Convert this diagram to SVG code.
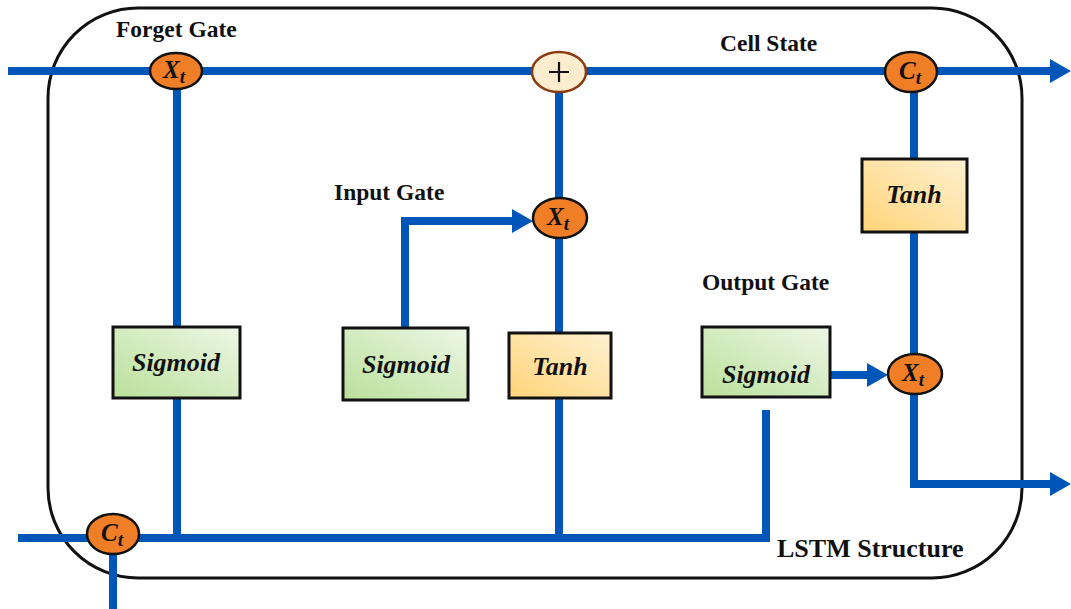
<svg xmlns="http://www.w3.org/2000/svg" width="1071" height="609" viewBox="0 0 1071 609">
<defs>
<linearGradient id="gGreen" x1="0" y1="1" x2="1" y2="0">
<stop offset="0" stop-color="#b9e09a"/><stop offset="1" stop-color="#eef7e6"/>
</linearGradient>
<linearGradient id="gYellow" x1="0" y1="1" x2="1" y2="0">
<stop offset="0" stop-color="#ffd478"/><stop offset="1" stop-color="#fff1d2"/>
</linearGradient>
<marker id="arr" markerUnits="userSpaceOnUse" markerWidth="22" markerHeight="26" refX="0" refY="13" orient="auto" overflow="visible">
<path d="M0,1 L21,13 L0,25 Z" fill="#0056b8"/>
</marker>
<style>
.ln{fill:none;stroke:#0056b8;stroke-width:8;}
.op{fill:#f07e26;stroke:#111;stroke-width:2.5;}
.bxg{fill:url(#gGreen);stroke:#111;stroke-width:3;}
.bxy{fill:url(#gYellow);stroke:#111;stroke-width:3;}
.lbl{font-family:"Liberation Serif",serif;font-weight:bold;font-size:23.5px;fill:#111;}
.fn{font-family:"Liberation Serif",serif;font-weight:bold;font-style:italic;font-size:26px;fill:#111;text-anchor:middle;}
.sym{font-family:"Liberation Serif",serif;font-weight:bold;font-style:italic;font-size:25px;fill:#111;}
.sub{font-size:19px;}
</style>
</defs>
<rect x="48" y="8" width="974" height="570" rx="90" ry="90" fill="none" stroke="#111" stroke-width="3"/>
<g id="connectors">
<path class="ln" d="M8,71 H1050" marker-end="url(#arr)"/>
<path class="ln" d="M177,71 V538"/>
<path class="ln" d="M559,71 V398"/>
<path class="ln" d="M559,398 V538"/>
<path class="ln" d="M405,400 V221 H512" marker-end="url(#arr)"/>
<path class="ln" d="M914,71 V484 H1050" marker-end="url(#arr)"/>
<path class="ln" d="M830,375 H867" marker-end="url(#arr)"/>
<path class="ln" d="M18,538 H766 V410"/>
<path class="ln" d="M113,538 V609"/>
</g>
<g id="forget-gate-label"><text class="lbl" x="116" y="37">Forget Gate</text></g>
<g id="cell-state-label"><text class="lbl" x="720" y="51">Cell State</text></g>
<g id="input-gate-label"><text class="lbl" x="334" y="200">Input Gate</text></g>
<g id="output-gate-label"><text class="lbl" x="702" y="290">Output Gate</text></g>
<g id="lstm-label"><text class="lbl" x="777" y="557" style="font-size:26px">LSTM Structure</text></g>
<g id="forget-mult">
<ellipse class="op" cx="176" cy="71" rx="26" ry="18"/>
<text class="sym" x="163" y="78">X<tspan class="sub" dy="5">t</tspan></text>
</g>
<g id="plus">
<ellipse cx="559" cy="72" rx="27" ry="20" fill="#fdeccd" stroke="#8b3a12" stroke-width="2.5"/>
<path d="M549,72 H569 M559,62 V82" stroke="#111" stroke-width="2.2" fill="none"/>
</g>
<g id="input-mult">
<ellipse class="op" cx="560" cy="218" rx="27" ry="20"/>
<text class="sym" x="547" y="225">X<tspan class="sub" dy="5">t</tspan></text>
</g>
<g id="ct-top">
<ellipse class="op" cx="911" cy="72" rx="26" ry="20"/>
<text class="sym" x="899" y="79">C<tspan class="sub" dy="5">t</tspan></text>
</g>
<g id="output-mult">
<ellipse class="op" cx="915" cy="374" rx="27" ry="20"/>
<text class="sym" x="902" y="381">X<tspan class="sub" dy="5">t</tspan></text>
</g>
<g id="ct-bottom">
<ellipse class="op" cx="113" cy="534" rx="26" ry="20"/>
<text class="sym" x="101" y="541">C<tspan class="sub" dy="5">t</tspan></text>
</g>
<g id="forget-sigmoid">
<rect class="bxg" x="113" y="327" width="127" height="71"/>
<text class="fn" x="176" y="371">Sigmoid</text>
</g>
<g id="input-sigmoid">
<rect class="bxg" x="343" y="328" width="125" height="72"/>
<text class="fn" x="406" y="373">Sigmoid</text>
</g>
<g id="input-tanh">
<rect class="bxy" x="509" y="333" width="102" height="65"/>
<text class="fn" x="560" y="375">Tanh</text>
</g>
<g id="output-sigmoid">
<rect class="bxg" x="702" y="327" width="128" height="70"/>
<text class="fn" x="766" y="383">Sigmoid</text>
</g>
<g id="cell-tanh">
<rect class="bxy" x="862" y="159" width="105" height="73"/>
<text class="fn" x="914" y="203">Tanh</text>
</g>
</svg>
